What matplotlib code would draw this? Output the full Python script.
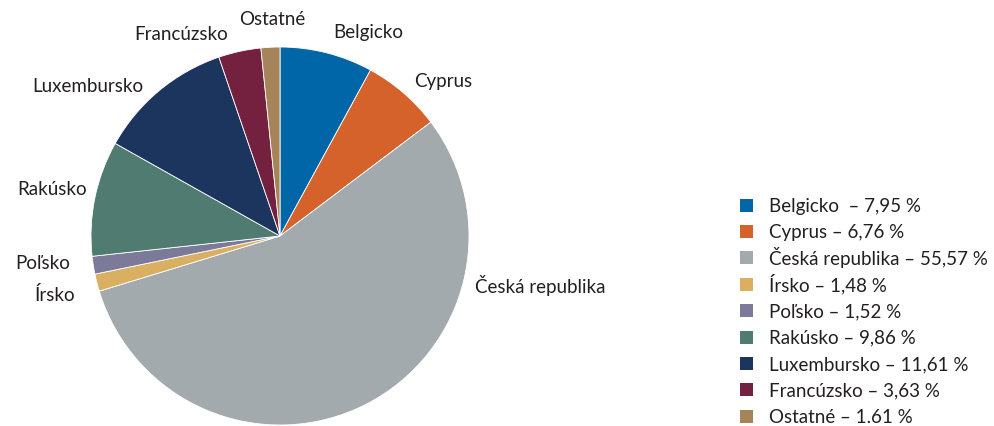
import matplotlib
matplotlib.use("Agg")
import matplotlib.pyplot as plt
from matplotlib.patches import Rectangle

plt.rcParams['font.family'] = ['Lato', 'DejaVu Sans']

categories = ["Belgicko", "Cyprus", "Česká republika", "Írsko", "Poľsko",
              "Rakúsko", "Luxembursko", "Francúzsko", "Ostatné"]
values = [7.95, 6.76, 55.57, 1.48, 1.52, 9.86, 11.61, 3.63, 1.61]
legend_labels = ["Belgicko  – 7,95 %", "Cyprus – 6,76 %", "Česká republika – 55,57 %",
                 "Írsko – 1,48 %", "Poľsko – 1,52 %", "Rakúsko – 9,86 %",
                 "Luxembursko – 11,61 %", "Francúzsko – 3,63 %", "Ostatné – 1.61 %"]
colors = ["#0066a8", "#d4622a", "#a2aaad", "#d9b062", "#7b7a98",
          "#4f7b70", "#1c355e", "#74203f", "#a5845a"]

W, H = 994, 426
fig = plt.figure(figsize=(W / 100, H / 100), dpi=100)
cx, cy, r = 280, 426 - 236, 189
ax = fig.add_axes([(cx - r) / W, (cy - r) / H, 2 * r / W, 2 * r / H])

FS = 13.5
TXT = "#231f20"
wedges, texts = ax.pie(values, labels=categories, colors=colors, startangle=90,
                       counterclock=False, labeldistance=1.1,
                       wedgeprops=dict(edgecolor="white", linewidth=0.6),
                       textprops=dict(fontsize=FS, color=TXT))
ax.set_xlim(-1, 1)
ax.set_ylim(-1, 1)
ax.set_aspect("equal")

# label placement tweaks (text anchor positions in pie units)
label_pos = {
    "Belgicko": ((0.28, 1.075), "left"),
    "Cyprus": ((0.71, 0.82), "left"),
    "Česká republika": ((1.03, -0.26), "left"),
    "Írsko": ((-1.085, -0.31), "right"),
    "Poľsko": ((-1.11, -0.145), "right"),
    "Rakúsko": ((-1.02, 0.245), "right"),
    "Luxembursko": ((-0.725, 0.79), "right"),
    "Francúzsko": ((-0.275, 1.065), "right"),
    "Ostatné": ((-0.04, 1.145), "center"),
}
for t in texts:
    pos, ha = label_pos[t.get_text()]
    t.set_position(pos)
    t.set_ha(ha)

# legend drawn row by row with a fixed pitch (in figure pixels)
y0, pitch, sq = 205, 26.4, 13
for i, (lab, col) in enumerate(zip(legend_labels, colors)):
    yc = y0 + i * pitch
    fig.patches.append(Rectangle((740 / W, (H - yc - sq / 2) / H), sq / W, sq / H,
                                 transform=fig.transFigure, facecolor=col,
                                 edgecolor="none"))
    fig.text(769 / W, (H - yc - 6.7) / H, lab, fontsize=FS, color=TXT,
             ha="left", va="baseline")

fig.savefig("out.png", dpi=100)
